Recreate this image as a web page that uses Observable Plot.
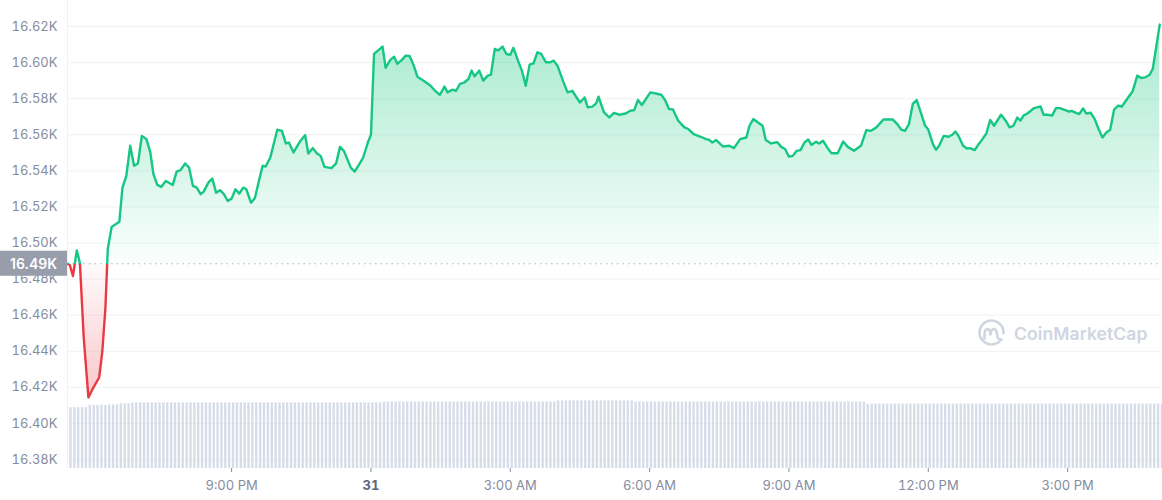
<!DOCTYPE html>
<html>
<head>
<meta charset="utf-8">
<script src="https://cdn.jsdelivr.net/npm/d3@7"></script>
<script src="https://cdn.jsdelivr.net/npm/@observablehq/plot@0.6"></script>
<style>
  html, body { margin: 0; padding: 0; background: #ffffff; }
  #chart { position: relative; width: 1162px; height: 500px; font-family: Inter, "Noto Sans", sans-serif; }
  #chart > svg { position: absolute; left: 0; top: 0; }
  #watermark { position: absolute; left: 977px; top: 319px; display: flex; align-items: center; gap: 8px;
               color: #cfd5e1; font-family: Inter, sans-serif; font-weight: 600; font-size: 17.5px; letter-spacing: 0.1px; }
</style>
</head>
<body>
<div id="chart"></div>
<script>
// BTC price, Dec 30 17:28 → Dec 31 16:59 (UTC), clock times roll over past midnight
const priceTimes = [
  "17:28","17:31","17:35","17:40","17:44","17:49","17:55","18:00","18:09","18:13",
  "18:17","18:20","18:25","18:35","18:39","18:44","18:49","18:54","18:59","19:04",
  "19:10","19:15","19:19","19:24","19:29","19:35","19:44","19:49","19:54","20:00",
  "20:05","20:10","20:15","20:20","20:24","20:30","20:35","20:40","20:45","20:50",
  "20:55","21:00","21:05","21:10","21:15","21:19","21:25","21:30","21:40","21:44",
  "21:50","21:59","22:05","22:10","22:14","22:20","22:29","22:35","22:39","22:45",
  "22:50","22:55","23:00","23:09","23:15","23:20","23:25","23:34","23:39","23:45",
  "23:50","23:56","00:00","00:04","00:15","00:19","00:25","00:30","00:34","00:40",
  "00:45","00:50","00:55","01:00","01:08","01:14","01:17","01:22","01:29","01:35",
  "01:39","01:45","01:50","01:55","02:01","02:06","02:10","02:14","02:20","02:25",
  "02:31","02:35","02:40","02:44","02:50","02:55","03:00","03:04","03:10","03:15",
  "03:20","03:25","03:30","03:35","03:40","03:46","03:52","03:56","04:01","04:08",
  "04:14","04:20","04:30","04:36","04:40","04:46","04:51","04:54","05:01","05:08",
  "05:14","05:21","05:29","05:35","05:40","05:45","05:50","06:01","06:08","06:15",
  "06:20","06:25","06:30","06:37","06:45","06:50","06:57","07:06","07:13","07:17",
  "07:21","07:26","07:35","07:43","07:49","07:57","08:05","08:09","08:14","08:20",
  "08:26","08:30","08:37","08:45","08:50","08:55","09:00","09:05","09:10","09:15",
  "09:20","09:25","09:29","09:35","09:39","09:44","09:50","09:55","10:03","10:10",
  "10:16","10:24","10:33","10:40","10:46","10:53","11:02","11:14","11:20","11:25",
  "11:30","11:35","11:40","11:45","11:51","11:56","12:00","12:06","12:10","12:14",
  "12:20","12:26","12:31","12:35","12:39","12:45","12:50","12:54","13:00","13:05",
  "13:10","13:15","13:20","13:25","13:34","13:40","13:45","13:50","13:55","13:59",
  "14:03","14:09","14:16","14:25","14:29","14:34","14:40","14:45","14:50","14:57",
  "15:02","15:05","15:11","15:15","15:20","15:24","15:30","15:35","15:40","15:45",
  "15:50","15:55","16:00","16:05","16:10","16:16","16:24","16:30","16:35","16:40",
  "16:46","16:50","16:59"
];

const prices = [
  16488.5,16487.8,16481.7,16495.9,16489.1,16447.4,16414.4,16418.7,16425.6,16440.0,
  16464.1,16496.5,16508.9,16511.8,16530.7,16537.2,16553.9,16542.8,16544.1,16559.4,
  16557.6,16550.2,16538.2,16532.2,16531.1,16534.4,16532.2,16539.6,16540.4,16544.1,
  16541.8,16531.7,16530.7,16527.1,16528.5,16533.5,16535.7,16527.9,16529.3,16527.1,
  16523.3,16524.6,16529.8,16527.4,16530.7,16529.8,16522.4,16524.8,16542.8,16542.4,
  16547.4,16562.8,16562.2,16555.2,16555.7,16550.2,16556.7,16559.8,16549.6,16552.6,
  16549.8,16548.3,16542.2,16541.5,16544.1,16553.3,16551.1,16541.8,16539.6,16543.7,
  16547.4,16555.7,16560.0,16604.8,16608.9,16597.1,16601.5,16603.3,16599.3,16601.5,
  16603.9,16603.7,16598.7,16592.2,16590.0,16588.2,16587.2,16584.8,16582.1,16586.7,
  16583.5,16585.0,16584.4,16588.2,16589.1,16590.9,16595.6,16592.4,16595.6,16590.0,
  16592.8,16593.3,16607.6,16606.7,16608.9,16604.8,16604.3,16608.2,16601.1,16595.6,
  16587.2,16598.9,16599.6,16605.7,16604.8,16600.2,16600.2,16601.1,16598.3,16590.0,
  16583.5,16584.4,16577.9,16580.7,16575.2,16575.6,16577.4,16581.1,16572.4,16569.6,
  16572.1,16571.1,16571.8,16573.3,16573.7,16579.3,16576.5,16583.5,16582.9,16582.2,
  16579.3,16574.3,16574.1,16567.8,16564.1,16563.2,16560.4,16558.9,16557.6,16557.2,
  16555.7,16557.1,16553.5,16553.9,16552.6,16557.6,16558.5,16565.0,16568.7,16566.8,
  16565.0,16557.1,16555.2,16555.9,16553.3,16552.1,16547.9,16548.3,16551.1,16551.5,
  16555.7,16557.4,16554.4,16556.1,16555.2,16556.7,16552.6,16549.8,16549.8,16556.3,
  16553.3,16551.1,16553.9,16562.6,16562.2,16564.1,16568.5,16568.5,16565.9,16562.9,
  16562.2,16565.9,16577.1,16579.3,16571.5,16565.0,16562.9,16554.8,16551.7,16553.9,
  16559.4,16558.9,16560.0,16561.8,16559.4,16553.9,16552.4,16552.6,16551.5,16554.8,
  16557.6,16560.7,16568.2,16565.0,16571.1,16567.8,16564.1,16565.0,16569.6,16567.8,
  16570.6,16572.1,16574.6,16575.7,16571.1,16571.1,16570.6,16574.8,16574.8,16573.7,
  16572.8,16573.3,16572.1,16571.5,16574.6,16571.8,16572.2,16568.7,16563.2,16558.5,
  16561.3,16562.8,16573.9,16576.1,16575.7,16579.3,16584.1,16592.8,16591.5,16591.8,
  16593.3,16596.5,16621.1
];

// 24h volume (billion USD), one bar per 5 minutes from 17:30
const volumeStart = "17:30";
const volumeStepMinutes = 5;
const volumes = [
  15.2,15.2,15.2,15.2,15.2,15.75,15.75,15.75,15.75,15.75,15.9,15.9,
  15.9,16.2,16.2,16.2,16.4,16.4,16.4,16.4,16.4,16.4,16.4,16.4,
  16.4,16.4,16.4,16.4,16.4,16.4,16.4,16.4,16.4,16.4,16.4,16.4,
  16.4,16.4,16.4,16.4,16.4,16.4,16.4,16.4,16.4,16.4,16.4,16.4,
  16.4,16.4,16.4,16.4,16.4,16.4,16.4,16.4,16.4,16.4,16.4,16.4,
  16.4,16.4,16.4,16.4,16.4,16.4,16.4,16.4,16.4,16.4,16.4,16.4,
  16.4,16.4,16.4,16.4,16.4,16.4,16.4,16.4,16.4,16.6,16.6,16.6,
  16.6,16.6,16.6,16.6,16.6,16.6,16.6,16.6,16.6,16.6,16.6,16.6,
  16.6,16.6,16.6,16.6,16.6,16.6,16.6,16.6,16.6,16.6,16.6,16.6,
  16.6,16.6,16.6,16.6,16.6,16.6,16.6,16.6,16.6,16.6,16.6,16.6,
  16.6,16.6,16.6,16.6,16.6,16.6,16.9,16.9,16.9,16.9,16.9,16.9,
  16.9,16.9,16.9,16.9,16.9,16.9,16.9,16.9,16.9,16.9,16.9,16.9,
  16.9,16.9,16.6,16.6,16.6,16.6,16.6,16.6,16.6,16.6,16.6,16.6,
  16.6,16.6,16.6,16.6,16.6,16.6,16.6,16.6,16.6,16.6,16.6,16.6,
  16.6,16.6,16.6,16.6,16.6,16.6,16.6,16.6,16.6,16.6,16.6,16.6,
  16.6,16.6,16.6,16.6,16.6,16.6,16.6,16.6,16.6,16.6,16.6,16.6,
  16.6,16.6,16.6,16.6,16.6,16.6,16.6,16.6,16.6,16.6,16.6,16.6,
  16.6,16.6,16.1,16.1,16.1,16.1,16.1,16.1,16.1,16.1,16.1,16.1,
  16.1,16.1,16.1,16.1,16.1,16.1,16.1,16.1,16.1,16.1,16.1,16.1,
  16.1,16.1,16.1,16.1,16.1,16.1,16.1,16.1,16.1,16.1,16.1,16.1,
  16.1,16.1,16.1,16.1,16.1,16.1,16.1,16.1,16.1,16.1,16.1,16.1,
  16.1,16.1,16.1,16.1,16.1,16.1,16.1,16.1,16.1,16.1,16.1,16.1,
  16.1,16.1,16.1,16.1,16.1,16.1,16.1,16.1,16.1,16.1,16.1,16.1,
  16.1,16.1,16.1,16.1,16.1,16.1,16.1
];

const yTickValues = [16380, 16400, 16420, 16440, 16460, 16480, 16500, 16520, 16540, 16560, 16580, 16600, 16620];
const yTickLabels = ["16.38K","16.40K","16.42K","16.44K","16.46K","16.48K","16.50K","16.52K","16.54K","16.56K","16.58K","16.60K","16.62K"];
const xTickTimes = ["21:00","00:00","03:00","06:00","09:00","12:00","15:00"];
const xTickLabels = ["9:00 PM","31","3:00 AM","6:00 AM","9:00 AM","12:00 PM","3:00 PM"];
const xDomainTimes = ["17:28","17:00"];
const baselinePrice = prices[0];          // open of the period
const watermarkText = "CoinMarketCap";

const GREEN = "#16c784", RED = "#ea3943";
const W = 1162, H = 500;

// "HH:MM" strings in sequence, starting Dec 30; a backwards step means the next day
function parseSequence(times, startDay = 30) {
  let day = startDay, prev = -1;
  return times.map(s => {
    const [h, m] = s.split(":").map(Number);
    const mins = h * 60 + m;
    if (mins < prev) day += 1;
    prev = mins;
    return new Date(Date.UTC(2022, 11, day, h, m));
  });
}

const priceDates = parseSequence(priceTimes);
const rows = priceDates.map((date, i) => ({date, price: prices[i]}));
const xDomain = parseSequence(xDomainTimes);
const xTicks = parseSequence(xTickTimes);
const xLabelOf = new Map(xTicks.map((d, i) => [+d, xTickLabels[i]]));
const yLabelOf = new Map(yTickValues.map((v, i) => [v, yTickLabels[i]]));

const volStart = parseSequence([volumeStart])[0];
const volRows = volumes.map((v, i) => {
  const start = new Date(+volStart + i * volumeStepMinutes * 60000);
  return {start, end: new Date(+start + volumeStepMinutes * 60000), vol: v};
});

const chart = document.getElementById("chart");

const pricePlot = Plot.plot({
  width: W, height: H,
  marginLeft: 67, marginRight: 2, marginTop: 0, marginBottom: 32,
  style: {background: "transparent", fontFamily: "Inter, sans-serif", fontSize: "13px", color: "#858ca0", overflow: "visible"},
  x: {type: "utc", domain: xDomain, ticks: xTicks, tickFormat: d => xLabelOf.get(+d) ?? "", tickSize: 4, tickPadding: 8, label: null},
  y: {domain: [16375, 16634.44], ticks: yTickValues, tickFormat: v => yLabelOf.get(v) ?? "", tickSize: 0, tickPadding: 10, label: null},
  marks: [
    Plot.ruleY(yTickValues, {stroke: "#eff1f5", strokeWidth: 1}),
    Plot.ruleX([xDomain[0]], {stroke: "#eff1f5", strokeWidth: 1}),
    Plot.areaY(rows, {x: "date", y1: () => baselinePrice, y2: "price", fill: "url(#priceArea)"}),
    Plot.ruleY([baselinePrice], {stroke: "#aab1be", strokeDasharray: "1.5,4", strokeWidth: 1.2}),
    Plot.line(rows, {x: "date", y: "price", stroke: "url(#priceStroke)", strokeWidth: 2.4, strokeLinejoin: "round", strokeLinecap: "round"})
  ]
});

const volumePlot = Plot.plot({
  width: W, height: H,
  marginLeft: 67, marginRight: 2, marginTop: 388, marginBottom: 32,
  style: {background: "transparent"},
  x: {type: "utc", domain: xDomain, axis: null},
  y: {domain: [0, 20], axis: null},
  marks: [
    Plot.rectY(volRows, {x1: "start", x2: "end", y1: 0, y2: "vol", fill: "#d6dce8", insetLeft: 0.75, insetRight: 0.75})
  ]
});

chart.appendChild(pricePlot);
chart.appendChild(volumePlot);

// Gradients for the line (green above the open, red below) and the soft area fills
const NS = "http://www.w3.org/2000/svg";
function el(name, attrs = {}, parent) {
  const e = document.createElementNS(NS, name);
  for (const [k, v] of Object.entries(attrs)) e.setAttribute(k, v);
  if (parent) parent.appendChild(e);
  return e;
}
const yScale = pricePlot.scale("y");
const by = yScale.apply(baselinePrice);
const yTop = yScale.apply(d3.max(prices));
const yBot = yScale.apply(d3.min(prices));
const defs = el("defs");
pricePlot.insertBefore(defs, pricePlot.firstChild);

const lg = el("linearGradient", {id: "priceStroke", gradientUnits: "userSpaceOnUse", x1: 0, y1: 0, x2: 0, y2: H}, defs);
el("stop", {offset: by / H, "stop-color": GREEN}, lg);
el("stop", {offset: by / H, "stop-color": RED}, lg);

const ag = el("linearGradient", {id: "priceArea", gradientUnits: "userSpaceOnUse", x1: 0, y1: 0, x2: 0, y2: H}, defs);
el("stop", {offset: yTop / H, "stop-color": GREEN, "stop-opacity": 0.38}, ag);
el("stop", {offset: by / H, "stop-color": GREEN, "stop-opacity": 0.02}, ag);
el("stop", {offset: by / H, "stop-color": RED, "stop-opacity": 0.02}, ag);
el("stop", {offset: yBot / H, "stop-color": RED, "stop-opacity": 0.28}, ag);

// Bold day label on the time axis
pricePlot.querySelectorAll("text").forEach(t => {
  if (t.textContent === "31") { t.setAttribute("font-weight", "700"); t.setAttribute("fill", "#58667e"); }
});

// Open-price tag on the left axis
const tag = el("g", {}, pricePlot);
el("rect", {x: 0, y: by - 12.5, width: 67, height: 25, fill: "#979dab"}, tag);
const tagText = el("text", {x: 33.5, y: by, "text-anchor": "middle", "dominant-baseline": "central",
  fill: "#ffffff", "font-size": 14, "font-weight": 600, "font-family": "Inter, sans-serif"}, tag);
tagText.textContent = (baselinePrice / 1000).toFixed(2) + "K";

// Watermark
const wm = document.createElement("div");
wm.id = "watermark";
wm.innerHTML = `<svg width="29" height="29" viewBox="0 0 29 29" fill="none" stroke="#cfd5e1" stroke-width="2.6" stroke-linecap="round" stroke-linejoin="round">
  <path d="M24.2 20.6 A12 12 0 1 1 26.5 14.2"/>
  <path d="M7.5 19.5 L7.5 15 Q8 9.5 11 10 Q13 10.5 13.5 15.5 Q14 10 17 10 Q20 10.5 20 15 L20.5 18.5 Q21.5 20.5 24.2 20.6"/>
</svg><span>${watermarkText}</span>`;
chart.appendChild(wm);
</script>
</body>
</html>
